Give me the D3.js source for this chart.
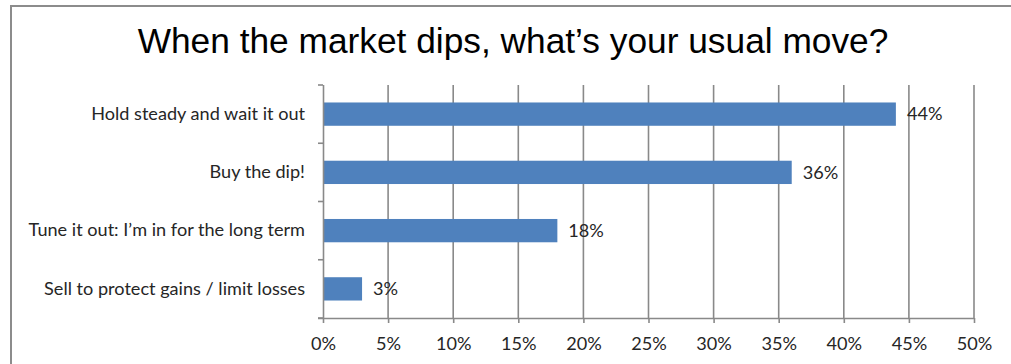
<!DOCTYPE html>
<html>
<head>
<meta charset="utf-8">
<script src="https://cdn.jsdelivr.net/npm/d3@7"></script>
<style>
  html, body { margin: 0; padding: 0; background: #fff; }
  svg { display: block; }
</style>
</head>
<body>
<svg id="chart" width="1011" height="364"></svg>
<script>
// Survey responses
const categories = [
  "Hold steady and wait it out",
  "Buy the dip!",
  "Tune it out: I\u2019m in for the long term",
  "Sell to protect gains / limit losses"
];
const values = [44, 36, 18, 3];
const tickValues = [0, 5, 10, 15, 20, 25, 30, 35, 40, 45, 50];
const title = "When the market dips, what\u2019s your usual move?";

const svg = d3.select("#chart");
const W = 1011, H = 364;
const plot = { left: 323, right: 974, top: 85, bottom: 318 };

const labelFont = "Lato, 'Open Sans', sans-serif";
const textColor = "#262626";
const gridColor = "#898989";

// Size the label font so the longest category spans ~261px
const probe = svg.append("text")
  .attr("font-family", labelFont).attr("font-size", 16)
  .text(categories[3]);
const labelSize = 16 * 261 / probe.node().getComputedTextLength();
probe.remove();

// Outer frame
svg.append("rect")
  .attr("x", 11).attr("y", 6)
  .attr("width", W + 20).attr("height", H + 20)
  .attr("fill", "#fff")
  .attr("stroke", "#8c8c8c")
  .attr("stroke-width", 2);

// Title
svg.append("text")
  .attr("x", 513).attr("y", 52.5)
  .attr("text-anchor", "middle")
  .attr("font-family", "'Liberation Sans', Arial, sans-serif")
  .attr("font-size", 35.3)
  .attr("fill", "#000")
  .text(title);

const x = d3.scaleLinear().domain([0, 50]).range([plot.left, plot.right]);
const y = d3.scaleBand().domain(categories).range([plot.top, plot.bottom]).paddingInner(0.6).paddingOuter(0.3);

// Vertical gridlines
svg.append("g")
  .selectAll("line")
  .data(tickValues.filter(d => d > 0))
  .join("line")
  .attr("x1", d => x(d)).attr("x2", d => x(d))
  .attr("y1", plot.top).attr("y2", plot.bottom)
  .attr("stroke", gridColor)
  .attr("stroke-width", 1.6);

// Bars
svg.append("g")
  .selectAll("rect")
  .data(values)
  .join("rect")
  .attr("x", x(0))
  .attr("y", (d, i) => y(categories[i]))
  .attr("width", d => x(d) - x(0))
  .attr("height", y.bandwidth())
  .attr("fill", "#4f81bd");

// X axis
const xAxis = svg.append("g")
  .attr("transform", `translate(0,${plot.bottom})`)
  .call(d3.axisBottom(x).tickValues(tickValues).tickSize(5).tickPadding(14).tickFormat(d => d + "%"));
xAxis.select(".domain").attr("stroke", gridColor).attr("stroke-width", 1.6)
  .attr("d", `M${plot.left - 5},0.5H${plot.right}`);
xAxis.selectAll(".tick line").attr("stroke", gridColor).attr("stroke-width", 1.6);
xAxis.selectAll(".tick text")
  .attr("font-family", labelFont).attr("font-size", labelSize).attr("fill", textColor);

// Y axis with ticks at category boundaries
const yAxis = svg.append("g")
  .attr("transform", `translate(${plot.left},0)`)
  .call(d3.axisLeft(y).tickSize(0).tickPadding(18));
yAxis.select(".domain").attr("stroke", gridColor).attr("stroke-width", 1.6)
  .attr("d", `M0.5,${plot.top}V${plot.bottom}`);
yAxis.selectAll(".tick text")
  .attr("font-family", labelFont).attr("font-size", labelSize).attr("fill", textColor);

const step = (plot.bottom - plot.top) / categories.length;
svg.append("g")
  .selectAll("line")
  .data(d3.range(categories.length + 1))
  .join("line")
  .attr("x1", plot.left - 5).attr("x2", plot.left)
  .attr("y1", i => plot.top + i * step).attr("y2", i => plot.top + i * step)
  .attr("stroke", gridColor).attr("stroke-width", 1.6);

// Value labels
svg.append("g")
  .selectAll("text")
  .data(values)
  .join("text")
  .attr("x", d => x(d) + 11)
  .attr("y", (d, i) => y(categories[i]) + y.bandwidth() / 2)
  .attr("dy", "0.35em")
  .attr("font-family", labelFont).attr("font-size", labelSize).attr("fill", textColor)
  .text(d => d + "%");
</script>
</body>
</html>
